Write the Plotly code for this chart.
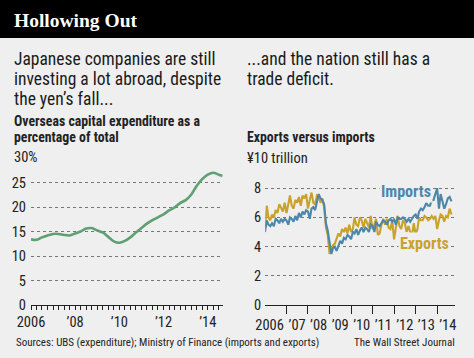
import plotly.graph_objects as go
import pandas as pd

W, H = 474, 358
BG = "#efefef"
FONT = "Roboto Condensed, DejaVu Sans Condensed, sans-serif"
GREEN = "#5e9f73"
BLUE = "#4d87a8"
GOLD = "#c9a22c"


def px(x):
    return x / W


def py(y):
    return 1 - y / H


# ---------------- Left chart: overseas capex share (%) ----------------
capex_dates = list(pd.date_range("2006-01-01", "2014-07-01", freq="QS").strftime("%Y-%m-%d")) + ["2014-09-01"]
capex_share = [13.4, 13.3, 13.8, 14.2, 14.5, 14.5, 14.3, 14.2,
               14.6, 15.0, 15.6, 15.7, 15.2, 14.8, 13.9, 13.0,
               12.7, 13.1, 13.8, 14.8, 15.7, 16.6, 17.3, 17.9,
               18.5, 19.3, 19.9, 20.8, 21.4, 22.5, 24.3, 25.7,
               26.6, 27.0, 26.6, 26.4]
left_xticks = ["2006-01-01", "2008-01-01", "2010-01-01", "2012-01-01", "2014-01-01"]
left_xlabels = ["2006", "\u201908", "\u201910", "\u201912", "\u201914"]
left_yticks = [0, 5, 10, 15, 20, 25, 30]
left_ylabels = ["0", "5", "10", "15", "20", "25", ""]

# ---------------- Right chart: exports vs imports (¥10 trillion) ----------------
trade_months = list(pd.date_range("2006-01-01", periods=105, freq="MS").strftime("%Y-%m-%d"))
exports = [5.3, 6.8, 6.0, 5.8, 6.2, 6.0, 6.5, 6.3, 6.9, 6.6, 6.4, 7.0,
           6.3, 6.9, 7.5, 6.8, 6.6, 7.2, 7.0, 7.4, 6.8, 7.5, 7.3, 7.6,
           6.6, 7.2, 7.7, 7.0, 6.9, 7.5, 7.4, 7.0, 7.3, 6.7, 5.3, 4.8,
           3.5, 3.7, 4.1, 4.2, 4.5, 4.9, 4.7, 5.2, 5.0, 5.3, 4.9, 5.5,
           5.0, 5.2, 6.0, 5.5, 5.4, 6.0, 5.8, 5.3, 5.9, 5.6, 5.3, 6.1,
           5.2, 5.5, 5.9, 4.8, 4.9, 5.5, 5.9, 5.5, 5.9, 5.3, 5.2, 5.8,
           4.5, 5.3, 6.1, 5.4, 5.2, 5.8, 5.6, 5.0, 5.4, 5.0, 4.8, 5.6,
           4.8, 5.2, 6.0, 5.8, 5.8, 6.1, 6.0, 5.8, 5.9, 6.1, 5.9, 6.1,
           5.2, 5.8, 6.2, 6.1, 5.7, 6.1, 6.0, 6.6, 6.2]
imports = [5.0, 5.8, 5.5, 5.4, 5.6, 5.4, 5.9, 5.8, 5.6, 5.9, 5.7, 5.9,
           5.8, 5.5, 6.0, 5.9, 5.7, 6.1, 5.8, 6.3, 6.0, 6.4, 6.2, 6.5,
           6.4, 5.9, 6.6, 6.7, 6.5, 7.0, 7.6, 7.3, 7.2, 6.9, 5.6, 5.1,
           4.1, 3.5, 3.9, 4.0, 3.7, 4.1, 4.4, 4.2, 4.6, 4.5, 4.8, 4.7,
           4.5, 5.0, 4.9, 5.2, 4.8, 5.1, 5.3, 5.0, 5.3, 5.2, 5.0, 5.5,
           5.4, 5.0, 5.7, 5.5, 5.4, 5.6, 5.8, 5.7, 5.5, 5.8, 5.9, 5.7,
           5.9, 5.5, 6.0, 5.9, 5.9, 6.0, 5.9, 5.7, 5.9, 5.7, 5.9, 6.1,
           6.2, 5.9, 6.4, 6.6, 6.5, 6.7, 7.0, 6.8, 6.8, 7.2, 7.2, 7.6,
           8.0, 6.6, 7.6, 7.1, 6.6, 6.9, 7.3, 7.4, 7.1]
right_years = [2006, 2007, 2008, 2009, 2010, 2011, 2012, 2013, 2014]
right_xlabels = ["2006", "\u201907", "\u201908", "\u201909", "\u201910", "\u201911", "\u201912", "\u201913", "\u201914"]
right_yticks = [0, 2, 4, 6, 8, 10]
right_ylabels = ["0", "2", "4", "6", "8", ""]

right_label_pos = ["%d-07-01" % y for y in right_years]
right_label_pos[0] = "2006-03-20"
right_boundaries = ["%d-01-01" % y for y in right_years[1:]]

fig = go.Figure()
fig.add_trace(go.Scatter(x=capex_dates, y=capex_share, mode="lines", line=dict(color=GREEN, width=2.6, shape="spline", smoothing=0.8),
                         xaxis="x", yaxis="y", hoverinfo="skip", showlegend=False))
fig.add_trace(go.Scatter(x=trade_months, y=exports, mode="lines", line=dict(color=GOLD, width=2.1),
                         xaxis="x2", yaxis="y2", hoverinfo="skip", showlegend=False))
fig.add_trace(go.Scatter(x=trade_months, y=imports, mode="lines", line=dict(color=BLUE, width=2.1),
                         xaxis="x2", yaxis="y2", hoverinfo="skip", showlegend=False))

tick_font = dict(family=FONT, size=14.5, color="#222")
grid = dict(showgrid=True, gridcolor="#777", griddash="dot", gridwidth=1)

fig.update_layout(
    width=W, height=H, autosize=False,
    margin=dict(l=0, r=0, t=0, b=0, pad=0),
    paper_bgcolor=BG, plot_bgcolor=BG,
    font=dict(family=FONT, color="#222"),
    xaxis=dict(domain=[px(31), px(223)], type="date", range=["2006-01-01", "2014-09-10"], automargin=False,
               tickmode="array", tickvals=left_xticks, ticktext=left_xlabels,
               ticks="outside", ticklen=4, tickcolor="#222", tickfont=tick_font,
               minor=dict(tickmode="linear", tick0="2006-01-01", dtick="M3", ticks="outside", ticklen=4, tickcolor="#222", showgrid=False),
               showgrid=False, showline=False, zeroline=False, anchor="y", fixedrange=True),
    yaxis=dict(domain=[py(305), py(158)], range=[0, 30], tickmode="array", tickvals=left_yticks, ticktext=left_ylabels, automargin=False,
               tickfont=tick_font, ticks="", ticklabelstandoff=4, zeroline=True, zerolinecolor="#222", zerolinewidth=1,
               showline=False, anchor="x", fixedrange=True, **grid),
    xaxis2=dict(domain=[px(265.2), px(455)], type="date", range=["2006-01-05", "2014-10-31"], automargin=False,
                tickmode="array", tickvals=right_label_pos, ticktext=right_xlabels,
                ticks="outside", ticklen=7, tickcolor="rgba(0,0,0,0)", tickfont=tick_font,
                minor=dict(tickmode="array", tickvals=right_boundaries, ticks="outside", ticklen=8, tickcolor="#222", showgrid=False),
                showgrid=False, showline=False, zeroline=False, anchor="y2", fixedrange=True),
    yaxis2=dict(domain=[py(305), py(159)], range=[0, 10], tickmode="array", tickvals=right_yticks, ticktext=right_ylabels, automargin=False,
                tickfont=tick_font, ticks="", ticklabelstandoff=3, zeroline=True, zerolinecolor="#222", zerolinewidth=1,
                showline=False, anchor="x2", fixedrange=True, **grid),
)

shapes = [dict(type="rect", xref="paper", yref="paper", x0=0, x1=1, y0=py(38), y1=1, fillcolor="#000", line=dict(width=0), layer="below")]
fig.update_layout(shapes=shapes)

ann = []


def text(x, y, s, size, color="#222", bold=False, anchor="left", family=FONT, bg=None):
    f = dict(family=family, size=size, color=color)
    d = dict(x=px(x), y=py(y), xref="paper", yref="paper", text=("<b>%s</b>" % s) if bold else s,
             showarrow=False, xanchor=anchor, yanchor="middle", align=anchor, font=f)
    if bg:
        d.update(bgcolor=bg, borderpad=1)
    ann.append(d)


text(12, 20, "Hollowing Out", 19.5, color="#fff", bold=True, family="Liberation Serif, DejaVu Serif, serif")
for i, line in enumerate(["Japanese companies are still", "investing a lot abroad, despite", "the yen\u2019s fall..."]):
    text(12, 58.5 + i * 20.3, line, 17.5, color="#1a1a1a")
for i, line in enumerate(["...and the nation still has a", "trade deficit."]):
    text(245, 58.5 + i * 20.3, line, 17.5, color="#1a1a1a")
text(12, 121, "Overseas capital expenditure as a", 13.8, bold=True)
text(12, 136.5, "percentage of total", 13.8, bold=True)
text(245, 136.5, "Exports versus imports", 13.8, bold=True)
text(12, 158, "30%", 14.5, bg=BG)
ann[-1].update(yref="y", y=30)
text(245, 159, "\u00a510 trillion", 14.5, bg=BG)
ann[-1].update(yref="y2", y=10)
text(406, 191.5, "Imports", 16, color=BLUE, bold=True, anchor="center", bg=BG)
text(424, 243.5, "Exports", 16, color=GOLD, bold=True, anchor="center", bg=BG)
text(14, 342.5, "Sources: UBS (expenditure); Ministry of Finance (imports and exports)", 11)
text(457, 342.5, "The Wall Street Journal", 11, anchor="right")

fig.update_layout(annotations=ann)
fig.write_html("out.html", config=dict(displayModeBar=False),
               post_script="document.body.style.margin='0';document.body.style.background='%s';" % BG)
